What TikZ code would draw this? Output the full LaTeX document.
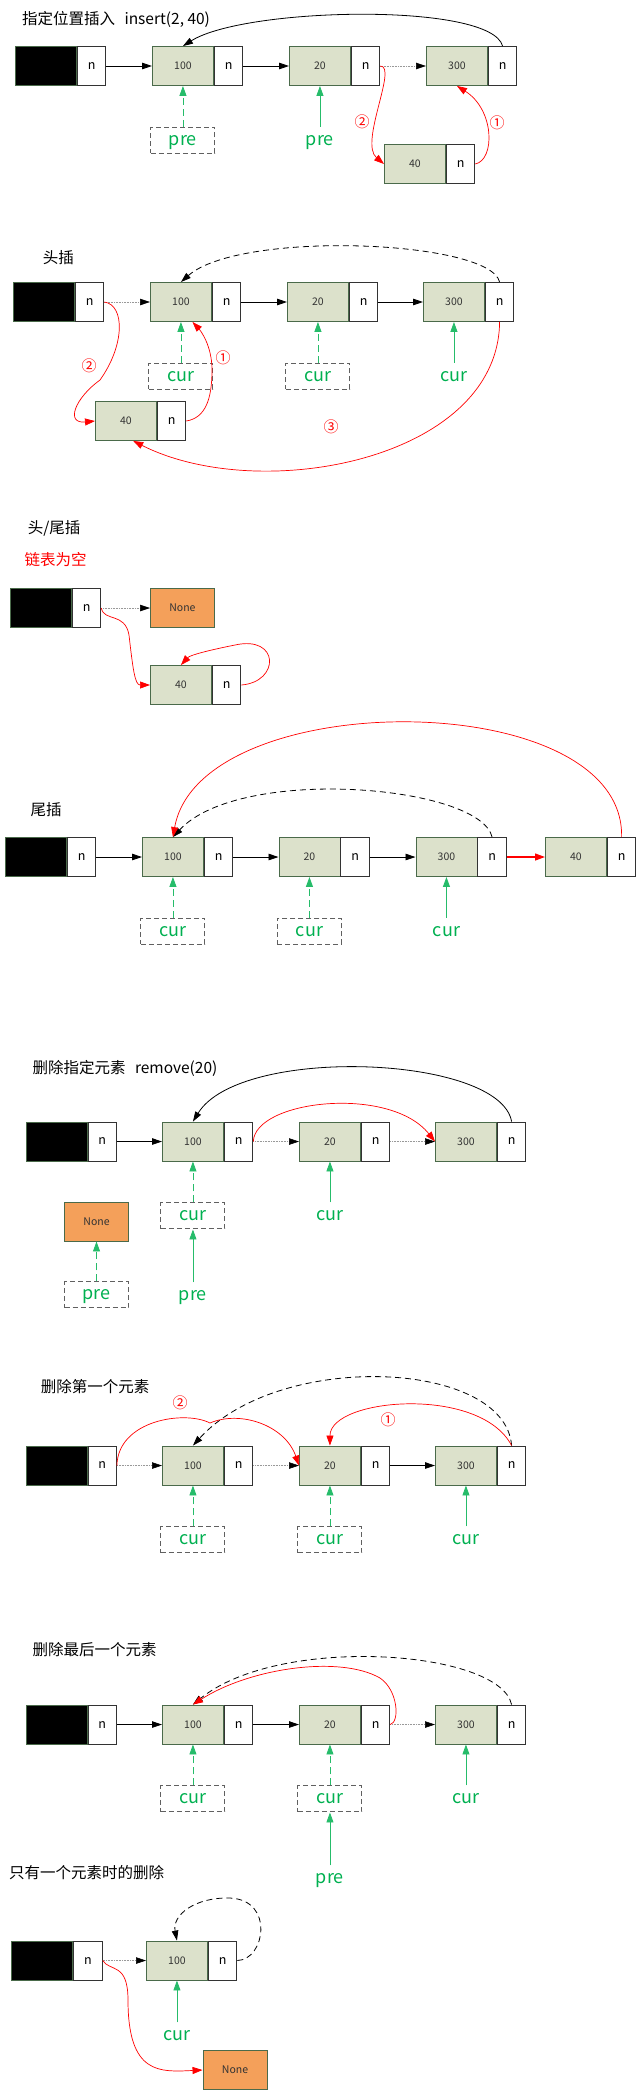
\documentclass[tikz,border=0pt]{standalone}
\usepackage{fontspec}
\setmainfont{Noto Sans CJK SC}
\usetikzlibrary{arrows.meta,positioning}

\definecolor{datafill}{HTML}{DCE1CB}
\definecolor{databorder}{HTML}{4A6A4A}
\definecolor{nonefill}{HTML}{F4A05A}
\definecolor{ptrgreen}{HTML}{00B050}
\definecolor{boxgray}{HTML}{606060}

\tikzset{
  databox/.style={draw=databorder, fill=datafill, line width=0.9pt, minimum width=61pt, minimum height=39pt, inner sep=0pt, text=black!80, font=\fontsize{10.5}{12}\selectfont},
  headbox/.style={databox, fill=black},
  nbox/.style={draw=black!80, fill=white, line width=0.9pt, minimum width=28.5pt, minimum height=39pt, inner sep=0pt, font=\fontsize{12.5}{14}\selectfont},
  nonebox/.style={databox, fill=nonefill, minimum width=64pt, font=\fontsize{10.5}{12}\selectfont},
  ptrbox/.style={draw=boxgray, dash pattern=on 5pt off 3pt, line width=1pt, minimum width=64pt, minimum height=26pt, inner sep=0pt, text height=9.7pt, text depth=0pt, text=ptrgreen, font=\fontsize{18}{20}\selectfont},
  ptrtext/.style={ptrbox, draw=none},
  title/.style={anchor=west, inner sep=0pt, font=\fontsize{15.5}{18}\selectfont},
  num/.style={inner sep=0pt, text=red, font=\fontsize{15}{17}\selectfont},
  ptr/.style={-{Triangle[length=10pt,width=6.5pt]}, line width=0.8pt},
  backptr/.style={ptr, dash pattern=on 6pt off 4pt},
  nullptr/.style={-{Triangle[length=10pt,width=6.5pt,color=black]}, gray!80, densely dotted, line width=0.6pt},
  redptr/.style={-{Triangle[length=10pt,width=7pt]}, red, line width=0.7pt},
  gptr/.style={-{Triangle[length=10pt,width=7pt]}, ptrgreen!85, line width=0.9pt},
  gdash/.style={gptr, dash pattern=on 7pt off 4pt},
}

% one list element: data box + next box
\newcommand{\listnode}[4][databox]{%
  \node[#1, anchor=west] (#2) at (#3) {#4};
  \node[nbox, right=0pt of #2] (#2n) {n};}

\begin{document}
\begin{tikzpicture}[x=1pt,y=-1pt]
\useasboundingbox (0,0) rectangle (636,2093);

% insert(2, 40)
\node[title] (atitle) at (22,19) {指定位置插入\hspace{0.6em}insert(2, 40)};
\listnode[headbox]{aH}{15,66}{}
\listnode{a1}{152,66}{100}
\listnode{a2}{289,66}{20}
\listnode{a3}{426,66}{300}
\listnode{a4}{384,164}{40}
\node[ptrbox, below=41pt of a1] (apre1) {pre};
\node[ptrtext, below=41pt of a2] (apre2) {pre};
\node[num] (anum2) at (362,122) {②};
\node[num] (anum1) at (497,123) {①};
\draw[ptr] (aHn) -- (a1);
\draw[ptr] (a1n) -- (a2);
\draw[nullptr] (a2n) -- (a3);
\draw[ptr] (a3n.north) .. controls (491,2) and (245,7) .. (a1.north);
\draw[gdash] (apre1) -- (a1);
\draw[gptr] (apre2) -- (a2);
\draw[redptr] (a2n.east) .. controls (398,66) and (359,143) .. (a4.west);
\draw[redptr] (a4n.east) .. controls (495,160) and (495,110) .. (a3.south);

% head insert
\node[title] (btitle) at (42.7,258) {头插};
\listnode[headbox]{bH}{13,302}{}
\listnode{b1}{150,302}{100}
\listnode{b2}{287,302}{20}
\listnode{b3}{423,302}{300}
\listnode{b4}{95,421}{40}
\node[ptrbox, below=41pt of b1] (bcur1) {cur};
\node[ptrbox, below=41pt of b2] (bcur2) {cur};
\node[ptrtext, below=41pt of b3] (bcur3) {cur};
\node[num] (bnum2) at (89,366) {②};
\node[num] (bnum1) at (223,358) {①};
\node[num] (bnum3) at (331,427) {③};
\draw[nullptr] (bHn) -- (b1);
\draw[ptr] (b1n) -- (b2);
\draw[ptr] (b2n) -- (b3);
\draw[backptr] (b3n.north) .. controls (490,240) and (240,230) .. (b1.north);
\draw[gdash] (bcur1) -- (b1);
\draw[gdash] (bcur2) -- (b2);
\draw[gptr] (bcur3) -- (b3);
\draw[redptr] (bHn.east) .. controls (125,305) and (125,345) .. (100,380) .. controls (75,398) and (65,424) .. (b4.west);
\draw[redptr] (b4n.east) .. controls (205,418) and (212,400) .. (212,370) .. controls (212,345) and (200,330) .. (b1.-60);
\draw[redptr] (b3n.south) .. controls (498,460) and (260,505) .. (b4.-70);

% empty list
\node[title] (ctitle) at (27.6,528) {头/尾插};
\node[title, text=red] (cnote) at (24.4,560) {链表为空};
\listnode[headbox]{cH}{10,608}{}
\node[nonebox, anchor=west] (cN) at (150,608) {None};
\listnode{c1}{150,685}{40}
\draw[nullptr] (cHn) -- (cN);
\draw[redptr] (cHn.east) .. controls (104,622) and (125,612) .. (129,635) .. controls (133,670) and (135,685) .. (c1.west);
\draw[redptr] (c1n.east) .. controls (280,682) and (280,635) .. (235,645) .. controls (210,650) and (190,655) .. (c1.north);

% tail insert
\node[title] (dtitle) at (30.5,810) {尾插};
\listnode[headbox]{dH}{5,857}{}
\listnode{d1}{142,857}{100}
\listnode{d2}{278.5,857}{20}
\listnode{d3}{415.5,857}{300}
\listnode{d4}{545,857}{40}
\node[ptrbox, below=41pt of d1] (dcur1) {cur};
\node[ptrbox, below=41pt of d2] (dcur2) {cur};
\node[ptrtext, below=41pt of d3] (dcur3) {cur};
\draw[ptr] (dHn) -- (d1);
\draw[ptr] (d1n) -- (d2);
\draw[ptr] (d2n) -- (d3);
\draw[redptr, line width=1.2pt] (d3n) -- (d4);
\draw[backptr] (d3n.north) .. controls (480,785) and (240,765) .. (d1.north);
\draw[redptr] (d4n.north) .. controls (625,685) and (200,685) .. (d1.north);
\draw[gdash] (dcur1) -- (d1);
\draw[gdash] (dcur2) -- (d2);
\draw[gptr] (dcur3) -- (d3);

% remove(20)
\node[title] (etitle) at (32.5,1068) {删除指定元素\hspace{0.6em}remove(20)};
\listnode[headbox]{eH}{25.6,1141.5}{}
\listnode{e1}{162,1141.5}{100}
\listnode{e2}{299,1141.5}{20}
\listnode{e3}{435,1141.5}{300}
\node[nonebox] (eN) at (96.5,1221.5) {None};
\node[ptrbox, below=40pt of eN] (epre1) {pre};
\node[ptrbox, below=41pt of e1] (ecur1) {cur};
\node[ptrtext, below=41pt of e2] (ecur2) {cur};
\node[ptrtext, below=53pt of ecur1] (epre2) {pre};
\draw[ptr] (eHn) -- (e1);
\draw[nullptr] (e1n) -- (e2);
\draw[nullptr] (e2n) -- (e3);
\draw[redptr] (e1n.east) .. controls (255,1100) and (390,1085) .. (e3.west);
\draw[ptr] (e3n.north) .. controls (500,1055) and (240,1045) .. (e1.north);
\draw[gdash] (epre1) -- (eN);
\draw[gdash] (ecur1) -- (e1);
\draw[gptr] (ecur2) -- (e2);
\draw[gptr] (epre2) -- (ecur1);

% remove first
\node[title] (ftitle) at (40.6,1387) {删除第一个元素};
\listnode[headbox]{fH}{25.6,1465.5}{}
\listnode{f1}{162,1465.5}{100}
\listnode{f2}{299,1465.5}{20}
\listnode{f3}{435,1465.5}{300}
\node[ptrbox, below=41pt of f1] (fcur1) {cur};
\node[ptrbox, below=41pt of f2] (fcur2) {cur};
\node[ptrtext, below=41pt of f3] (fcur3) {cur};
\node[num] (fnum2) at (180,1403) {②};
\node[num] (fnum1) at (388,1420) {①};
\draw[nullptr] (fHn) -- (f1);
\draw[nullptr] (f1n) -- (f2);
\draw[ptr] (f2n) -- (f3);
\draw[backptr] (f3n.north) .. controls (505,1360) and (280,1350) .. (f1.north);
\draw[redptr] (f3n.north) .. controls (480,1385) and (330,1398) .. (f2.north);
\draw[redptr] (fHn.east) .. controls (118,1420) and (185,1410) .. (210,1423) .. controls (240,1410) and (285,1425) .. (f2.west);
\draw[gdash] (fcur1) -- (f1);
\draw[gdash] (fcur2) -- (f2);
\draw[gptr] (fcur3) -- (f3);

% remove last
\node[title] (gtitle) at (32.5,1650) {删除最后一个元素};
\listnode[headbox]{gH}{25.6,1724.5}{}
\listnode{g1}{162,1724.5}{100}
\listnode{g2}{299,1724.5}{20}
\listnode{g3}{435,1724.5}{300}
\node[ptrbox, below=41pt of g1] (gcur1) {cur};
\node[ptrbox, below=41pt of g2] (gcur2) {cur};
\node[ptrtext, below=41pt of g3] (gcur3) {cur};
\node[ptrtext, below=53pt of gcur2] (gpre) {pre};
\draw[ptr] (gHn) -- (g1);
\draw[ptr] (g1n) -- (g2);
\draw[nullptr] (g2n) -- (g3);
\draw[backptr] (g3n.north) .. controls (500,1650) and (280,1634) .. (g1.north);
\draw[redptr] (g2n.east) .. controls (400,1722) and (398,1690) .. (380,1678) .. controls (340,1655) and (250,1668) .. (g1.north);
\draw[gdash] (gcur1) -- (g1);
\draw[gdash] (gcur2) -- (g2);
\draw[gptr] (gcur3) -- (g3);
\draw[gptr] (gpre) -- (gcur2);

% only one element
\node[title] (htitle) at (9,1873) {只有一个元素时的删除};
\listnode[headbox]{hH}{11.4,1960.5}{}
\listnode{h1}{146,1960.5}{100}
\node[ptrtext, below=42pt of h1] (hcur) {cur};
\node[nonebox] (hN) at (235,2070) {None};
\draw[nullptr] (hHn) -- (h1);
\draw[backptr] (h1n.east) .. controls (265,1960) and (275,1900) .. (230,1898) .. controls (195,1897) and (172,1915) .. (h1.north);
\draw[redptr] (hHn.east) .. controls (110,1972) and (128,1962) .. (128,2000) .. controls (128,2075) and (160,2072) .. (hN.west);
\draw[gptr] (hcur) -- (h1);
\end{tikzpicture}
\end{document}
